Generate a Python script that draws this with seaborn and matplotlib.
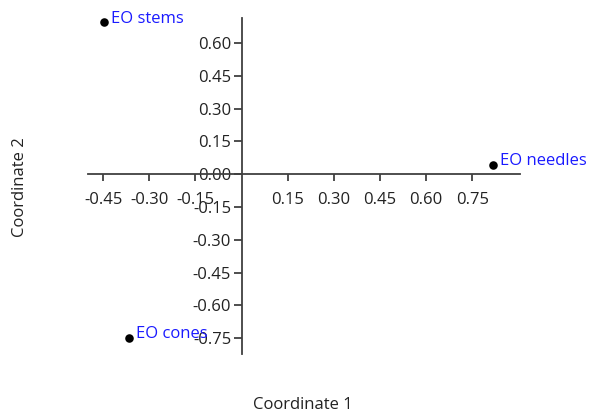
import matplotlib
matplotlib.use("Agg")
import matplotlib.pyplot as plt
import seaborn as sns
import pandas as pd

# Data
samples = ["EO stems", "EO needles", "EO cones"]
coord1 = [-0.448, 0.818, -0.367]
coord2 = [0.695, 0.044, -0.747]
xticks = [-0.45, -0.30, -0.15, 0.15, 0.30, 0.45, 0.60, 0.75]
yticks = [0.60, 0.45, 0.30, 0.15, 0.00, -0.15, -0.30, -0.45, -0.60, -0.75]

df = pd.DataFrame({"sample": samples, "c1": coord1, "c2": coord2})

sns.set_theme(style="white")
plt.rcParams["font.family"] = ["Open Sans", "DejaVu Sans"]

FS = 12

fig = plt.figure(figsize=(5.93, 4.15), dpi=100)
ax = fig.add_axes([0.148, 0.147, 0.729, 0.810])

sns.scatterplot(data=df, x="c1", y="c2", ax=ax, color="black", s=38,
                edgecolor="black", linewidth=0, legend=False, zorder=3)

for name, x, y in zip(samples, coord1, coord2):
    ax.annotate(name, (x, y), xytext=(5, 2.5), textcoords="offset points",
                color="#1a1aff", fontsize=FS, va="center", ha="left")

ax.set_xlim(-0.50, 0.905)
ax.set_ylim(-0.822, 0.715)

for side in ["top", "right"]:
    ax.spines[side].set_visible(False)
for side in ["left", "bottom"]:
    ax.spines[side].set_position(("data", 0))
    ax.spines[side].set_color("#404040")
    ax.spines[side].set_linewidth(1.3)

ax.set_xticks(xticks)
ax.set_xticklabels([f"{t:.2f}" for t in xticks])
ax.set_yticks(yticks)
ax.set_yticklabels([f"{t:.2f}" for t in yticks])
ax.tick_params(axis="both", direction="out", width=1.3,
               color="#404040", labelsize=FS, labelcolor="#222222")
ax.tick_params(axis="x", bottom=True, length=5, pad=7.5)
ax.tick_params(axis="y", left=True, length=6, pad=1.5)
ax.set_xlabel("")
ax.set_ylabel("")
ax.grid(False)

fig.text(0.511, 0.004, "Coordinate 1", ha="center", va="bottom",
         fontsize=FS, color="#222222")
fig.text(0.033, 0.549, "Coordinate 2", ha="center", va="center",
         rotation=90, fontsize=FS, color="#222222")

fig.savefig("out.png", dpi=100)
